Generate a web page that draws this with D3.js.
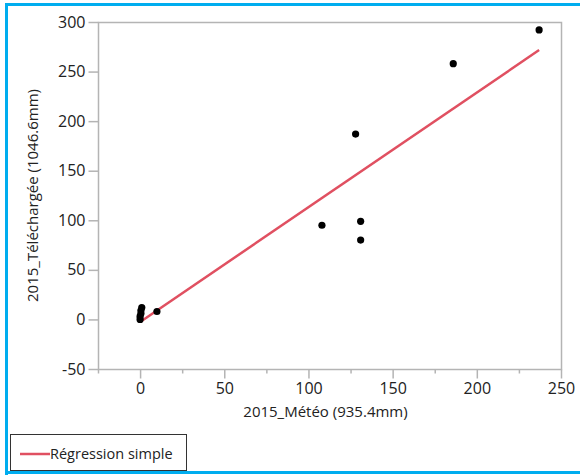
<!DOCTYPE html>
<html><head><meta charset="utf-8">
<script src="https://cdn.jsdelivr.net/npm/d3@7"></script>
<style>
html,body{margin:0;padding:0;background:#fff;}
svg{display:block;}
text{font-family:"Open Sans","Noto Sans",sans-serif;}
</style></head>
<body>
<svg id="chart" width="580" height="475"></svg>
<script>
// Data
const meteo      = [0, 0, 0.5, 0.5, 1, 10, 108, 128, 131, 131, 186, 237];
const telecharge = [0, 3, 6, 9, 12, 8, 95, 187, 99, 80, 258, 292];
const xTicks = [0, 50, 100, 150, 200, 250];
const xMinor = [-25, 25, 75, 125, 175, 225];
const yTicks = [-50, 0, 50, 100, 150, 200, 250, 300];
const xTitle = "2015_Météo (935.4mm)";
const yTitle = "2015_Téléchargée (1046.6mm)";
const legendLabel = "Régression simple";

const svg = d3.select("#chart");
const W = 580, H = 475;
const mLeft = 98, mRight = 561, mTop = 22, mBottom = 369;

// blue border
svg.append("rect").attr("x",0).attr("y",0).attr("width",W).attr("height",H).attr("fill","#fff");
svg.append("line").attr("x1",6.5).attr("x2",6.5).attr("y1",3).attr("y2",475).attr("stroke","#00adef").attr("stroke-width",3);
svg.append("line").attr("x1",5).attr("x2",580).attr("y1",4.5).attr("y2",4.5).attr("stroke","#00adef").attr("stroke-width",3);
svg.append("line").attr("x1",5).attr("x2",580).attr("y1",472.5).attr("y2",472.5).attr("stroke","#00adef").attr("stroke-width",3);

const x = d3.scaleLinear().domain([-25, 250]).range([mLeft, mRight]);
const y = d3.scaleLinear().domain([-50, 300]).range([mBottom, mTop]);

// frame
svg.append("rect").attr("x",mLeft+0.5).attr("y",mTop+0.5).attr("width",mRight-mLeft).attr("height",mBottom-mTop)
  .attr("fill","none").attr("stroke","#b4b4b4").attr("stroke-width",1.5);

const labelColor = "#222";
const fmt = d => String(d);
// x axis
const gx = svg.append("g").attr("transform",`translate(0,${mBottom+0.5})`);
gx.call(d3.axisBottom(x).tickValues(xTicks).tickSize(9).tickPadding(4).tickFormat(fmt));
const gxm = svg.append("g").attr("transform",`translate(0,${mBottom+0.5})`);
gxm.call(d3.axisBottom(x).tickValues(xMinor).tickSize(4).tickFormat(""));
[gx,gxm].forEach(g=>{
  g.select(".domain").remove();
  g.selectAll(".tick line").attr("stroke","#b4b4b4").attr("stroke-width",1.5);
});
gx.selectAll(".tick text").attr("fill",labelColor).style("font-size","16px");

// y axis
const gy = svg.append("g").attr("transform",`translate(${mLeft+0.5},0)`);
gy.call(d3.axisLeft(y).tickValues(yTicks).tickSize(10).tickPadding(3).tickFormat(fmt));
gy.select(".domain").remove();
gy.selectAll(".tick line").attr("stroke","#b4b4b4").attr("stroke-width",1.5);
gy.selectAll(".tick text").attr("fill",labelColor).style("font-size","16px");

// titles
svg.append("text").attr("x",(mLeft+mRight)/2-4).attr("y",417).attr("text-anchor","middle")
  .attr("fill",labelColor).style("font-size","15px").text(xTitle);
svg.append("text").attr("transform",`translate(38,${(mTop+mBottom)/2}) rotate(-90)`).attr("text-anchor","middle")
  .attr("fill",labelColor).style("font-size","15px").text(yTitle);

// regression
const n = meteo.length;
const mx = d3.mean(meteo), my = d3.mean(telecharge);
let sxy=0, sxx=0;
for(let i=0;i<n;i++){ sxy += (meteo[i]-mx)*(telecharge[i]-my); sxx += (meteo[i]-mx)**2; }
const slope = sxy/sxx, intercept = my - slope*mx;
const [xmin,xmax] = d3.extent(meteo);
const lineColor = "#e05061";
svg.append("line")
  .attr("x1",x(xmin)).attr("y1",y(intercept+slope*xmin))
  .attr("x2",x(xmax)).attr("y2",y(intercept+slope*xmax))
  .attr("stroke",lineColor).attr("stroke-width",2.5);

// points
svg.append("g").selectAll("circle").data(meteo.map((d,i)=>[d,telecharge[i]])).join("circle")
  .attr("cx",d=>x(d[0])).attr("cy",d=>y(d[1])).attr("r",3.6).attr("fill","#000");

// legend
svg.append("rect").attr("x",10.5).attr("y",434.5).attr("width",176).attr("height",36)
  .attr("fill","#fff").attr("stroke","#333").attr("stroke-width",1);
svg.append("line").attr("x1",20).attr("x2",50).attr("y1",454).attr("y2",454).attr("stroke",lineColor).attr("stroke-width",2.5);
svg.append("text").attr("x",50).attr("y",459).attr("fill",labelColor).style("font-size","14.5px").text(legendLabel);
</script>
</body></html>
